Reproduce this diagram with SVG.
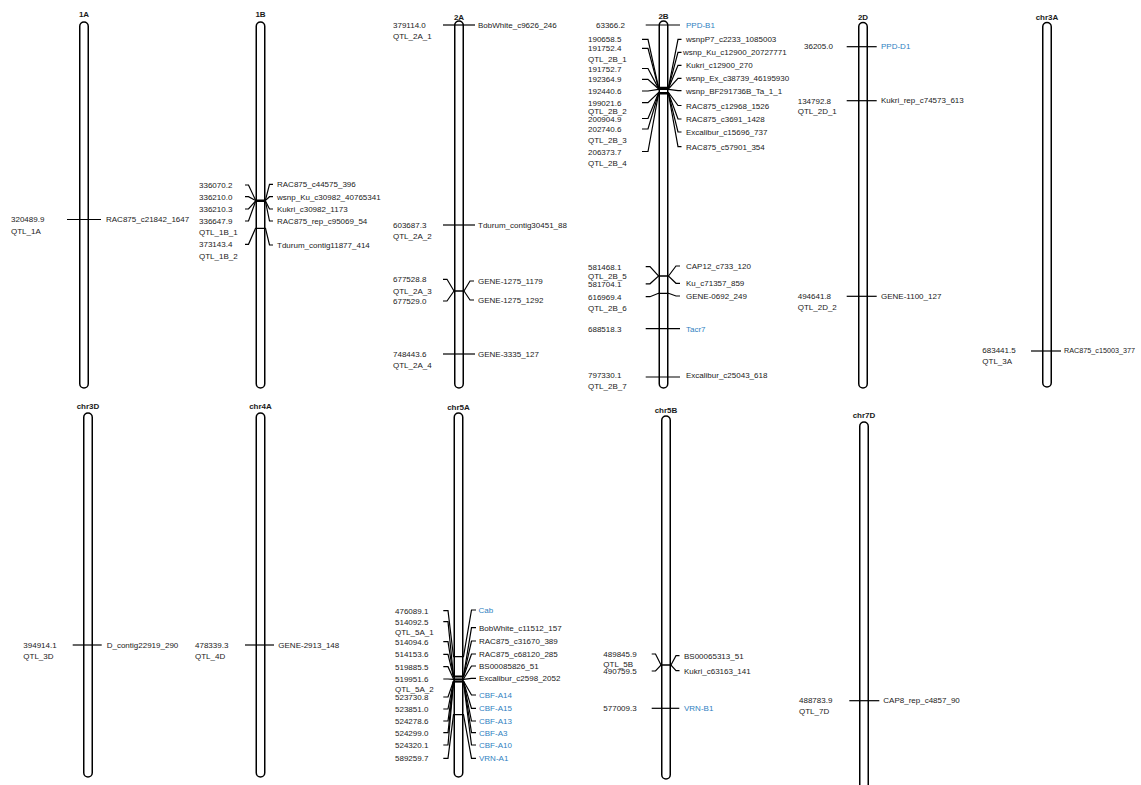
<svg xmlns="http://www.w3.org/2000/svg" width="1141" height="785" viewBox="0 0 1141 785">
<style>
text{font-family:"Liberation Sans",Arial,sans-serif;font-size:8px;fill:#1a1a1a}
.t{font-weight:bold;text-anchor:middle}
.b{fill:#2F7FC1}
.tube{fill:#fff;stroke:#000;stroke-width:1.5}
.c{fill:none;stroke:#000;stroke-width:1.2;stroke-linejoin:miter}
</style>
<rect width="1141" height="785" fill="#fff"/>
<g id="chr1A">
<text class="t" x="84" y="17">1A</text>
<rect class="tube" x="79.75" y="22" width="8.5" height="366" rx="4.25"/>
<text x="11" y="222">320489.9</text><text x="11" y="234">QTL_1A</text>
<text x="106" y="222">RAC875_c21842_1647</text>
</g>
<g id="chr1B">
<text class="t" x="260.5" y="17">1B</text>
<rect class="tube" x="256.25" y="22" width="8.5" height="366" rx="4.25"/>
<text x="199" y="188">336070.2</text><text x="199" y="199.7">336210.0</text><text x="199" y="212">336210.3</text><text x="199" y="224">336647.9</text><text x="199" y="235.3">QTL_1B_1</text><text x="199" y="247.3">373143.4</text><text x="199" y="258.7">QTL_1B_2</text>
<text x="277" y="187.3">RAC875_c44575_396</text><text x="277" y="199.7">wsnp_Ku_c30982_40765341</text><text x="277" y="212">Kukri_c30982_1173</text><text x="277" y="224">RAC875_rep_c95069_54</text><text x="277" y="248">Tdurum_contig11877_414</text>
</g>
<g id="chr2A">
<text class="t" x="459" y="20">2A</text>
<rect class="tube" x="454.75" y="21" width="8.5" height="367" rx="4.25"/>
<text x="393" y="28">379114.0</text><text x="393" y="39">QTL_2A_1</text><text x="393" y="228">603687.3</text><text x="393" y="239">QTL_2A_2</text><text x="393" y="282.3">677528.8</text><text x="393" y="294">QTL_2A_3</text><text x="393" y="304">677529.0</text><text x="393" y="357">748443.6</text><text x="393" y="368">QTL_2A_4</text>
<text x="478" y="28">BobWhite_c9626_246</text><text x="478" y="228">Tdurum_contig30451_88</text><text x="478" y="284">GENE-1275_1179</text><text x="478" y="303">GENE-1275_1292</text><text x="478" y="357">GENE-3335_127</text>
</g>
<g id="chr2B">
<text class="t" x="663.5" y="19">2B</text>
<rect class="tube" x="659.25" y="21" width="8.5" height="367" rx="4.25"/>
<text x="596" y="28">63366.2</text>
<text x="588" y="42.3">190658.5</text><text x="588" y="51.3">191752.4</text><text x="588" y="62.3">QTL_2B_1</text><text x="588" y="71.5">191752.7</text><text x="588" y="82.3">192364.9</text><text x="588" y="94">192440.6</text><text x="588" y="105.7">199021.6</text><text x="588" y="114">QTL_2B_2</text><text x="588" y="121.5">200904.9</text><text x="588" y="132">202740.6</text><text x="588" y="143">QTL_2B_3</text><text x="588" y="154.5">206373.7</text><text x="588" y="166">QTL_2B_4</text>
<text x="588" y="269.7">581468.1</text><text x="588" y="279.3">QTL_2B_5</text><text x="588" y="286.8">581704.1</text><text x="588" y="299.7">616969.4</text><text x="588" y="310.7">QTL_2B_6</text><text x="588" y="331.7">688518.3</text><text x="588" y="378">797330.1</text><text x="588" y="388.5">QTL_2B_7</text>
<text class="b" x="686" y="28">PPD-B1</text><text x="686" y="42.3">wsnpP7_c2233_1085003</text><text x="683" y="55.3">wsnp_Ku_c12900_20727771</text><text x="686" y="68.3">Kukri_c12900_270</text><text x="686" y="81.3">wsnp_Ex_c38739_46195930</text><text x="686" y="93.7">wsnp_BF291736B_Ta_1_1</text><text x="686" y="108.5">RAC875_c12968_1526</text><text x="686" y="122">RAC875_c3691_1428</text><text x="686" y="135">Excalibur_c15696_737</text><text x="686" y="149.7">RAC875_c57901_354</text>
<text x="686" y="269">CAP12_c733_120</text><text x="686" y="286.3">Ku_c71357_859</text><text x="686" y="299">GENE-0692_249</text><text class="b" x="686" y="331.7">Tacr7</text><text x="686" y="377.5">Excalibur_c25043_618</text>
</g>
<g id="chr2D">
<text class="t" x="863" y="19.7">2D</text>
<rect class="tube" x="858.75" y="22.5" width="8.5" height="365.5" rx="4.25"/>
<text x="804" y="49.3">36205.0</text><text x="797.7" y="103.7">134792.8</text><text x="797.7" y="113.7">QTL_2D_1</text><text x="797.7" y="299">494641.8</text><text x="797.7" y="310.3">QTL_2D_2</text>
<text class="b" x="881" y="49.3">PPD-D1</text><text x="881" y="103.3">Kukri_rep_c74573_613</text><text x="881" y="299">GENE-1100_127</text>
</g>
<g id="chr3A">
<text class="t" x="1047" y="19.7">chr3A</text>
<rect class="tube" x="1042.75" y="22.5" width="8.5" height="364.5" rx="4.25"/>
<text x="982.3" y="353">683441.5</text><text x="982.3" y="364">QTL_3A</text>
<text x="1064" y="353" textLength="71" lengthAdjust="spacingAndGlyphs">RAC875_c15003_377</text>
</g>
<g id="chr3D">
<text class="t" x="88" y="409">chr3D</text>
<rect class="tube" x="83.75" y="413" width="8.5" height="364" rx="4.25"/>
<text x="23.3" y="648">394914.1</text><text x="23.3" y="659">QTL_3D</text>
<text x="106.7" y="648">D_contig22919_290</text>
</g>
<g id="chr4A">
<text class="t" x="260.5" y="409">chr4A</text>
<rect class="tube" x="256.25" y="413" width="8.5" height="364" rx="4.25"/>
<text x="195" y="648">478339.3</text><text x="195" y="659">QTL_4D</text>
<text x="278.3" y="648">GENE-2913_148</text>
</g>
<g id="chr5A">
<text class="t" x="458.5" y="410">chr5A</text>
<rect class="tube" x="454.25" y="413" width="8.5" height="364" rx="4.25"/>
<text x="395" y="613.7">476089.1</text><text x="395" y="624.7">514092.5</text><text x="395" y="634.7">QTL_5A_1</text><text x="395" y="644.7">514094.6</text><text x="395" y="657.3">514153.6</text><text x="395" y="669.7">519885.5</text><text x="395" y="682">519951.6</text><text x="395" y="691.6">QTL_5A_2</text><text x="395" y="700">523730.8</text><text x="395" y="712">523851.0</text><text x="395" y="724">524278.6</text><text x="395" y="735.7">524299.0</text><text x="395" y="748">524320.1</text><text x="395" y="761.3">589259.7</text>
<text class="b" x="478.5" y="613">Cab</text><text x="479" y="630.7">BobWhite_c11512_157</text><text x="479" y="644">RAC875_c31670_389</text><text x="479" y="657">RAC875_c68120_285</text><text x="479" y="669">BS00085826_51</text><text x="479" y="681.3">Excalibur_c2598_2052</text><text class="b" x="479" y="698">CBF-A14</text><text class="b" x="479" y="711.3">CBF-A15</text><text class="b" x="479" y="724">CBF-A13</text><text class="b" x="479" y="735.7">CBF-A3</text><text class="b" x="479" y="748">CBF-A10</text><text class="b" x="479" y="761.3">VRN-A1</text>
</g>
<g id="chr5B">
<text class="t" x="666" y="413">chr5B</text>
<rect class="tube" x="661.75" y="416" width="8.5" height="363" rx="4.25"/>
<text x="603.3" y="657">489845.9</text><text x="603.3" y="667">QTL_5B</text><text x="603.3" y="674">490759.5</text><text x="603.3" y="711.3">577009.3</text>
<text x="684" y="658.7">BS00065313_51</text><text x="684" y="673.7">Kukri_c63163_141</text><text class="b" x="684" y="711.3">VRN-B1</text>
</g>
<g id="chr7D">
<text class="t" x="864" y="418">chr7D</text>
<rect class="tube" x="859.75" y="422" width="8.5" height="400" rx="4.25"/>
<text x="799" y="703">488783.9</text><text x="799" y="713.7">QTL_7D</text>
<text x="883.3" y="703">CAP8_rep_c4857_90</text>
</g>
<g id="connectors">
<path class="c" d="M67 219.5H101"/>
<path class="c" d="M245 185H248.5L255.5 200H265.5L269.5 184.3H273"/>
<path class="c" d="M245 196.7H248.5L255.5 200.5H265.5L269.5 196.7H273"/>
<path class="c" d="M245 209H248.5L255.5 201H265.5L269.5 209H273"/>
<path class="c" d="M245 221H248.5L255.5 201.5H265.5L269.5 221H273"/>
<path class="c" d="M245 244.3H248.5L255.5 228.3H265.5L269.5 245H273"/>
<path class="c" d="M443 25H475"/>
<path class="c" d="M443 225H475"/>
<path class="c" d="M443 279.3H447L454 291H464L470 281H474"/>
<path class="c" d="M443 301H447L454 291H464L470 300H474"/>
<path class="c" d="M443 354H475"/>
<path class="c" d="M645.7 25H680"/>
<path class="c" d="M642 39.3H648L658.5 87.3H668.5L678 39.3H681.5"/>
<path class="c" d="M642 48.3H648L658.5 87.8H668.5L678 52.3H681.5"/>
<path class="c" d="M642 68.5H648L658.5 88.3H668.5L678 65.3H681.5"/>
<path class="c" d="M642 79.3H648L658.5 88.8H668.5L678 78.3H681.5"/>
<path class="c" d="M642 91H648L658.5 89.3H668.5L678 90.7H681.5"/>
<path class="c" d="M642 102.7H648L658.5 92.5H668.5L678 105.5H681.5"/>
<path class="c" d="M642 118.5H648L658.5 93H668.5L678 119H681.5"/>
<path class="c" d="M642 129H648L658.5 93.5H668.5L678 132H681.5"/>
<path class="c" d="M642 151.5H648L658.5 94H668.5L678 146.7H681.5"/>
<path class="c" d="M645.7 266.7H650L658.5 276H668.5L676 266H680"/>
<path class="c" d="M645.7 283.8H650L658.5 276H668.5L676 283.3H680"/>
<path class="c" d="M645.7 296.7H650L658.5 293.3H668.5L676 296H680"/>
<path class="c" d="M645.7 328.7H680"/>
<path class="c" d="M645.7 377H680"/>
<path class="c" d="M846.7 46.7H876.7"/>
<path class="c" d="M846.7 100.7H876.7"/>
<path class="c" d="M846.7 296.3H876.7"/>
<path class="c" d="M1031 351H1061"/>
<path class="c" d="M72.7 645H101.7"/>
<path class="c" d="M245 645H274"/>
<path class="c" d="M443.3 610.7H448L453.5 656.7H463.5L471.5 610H476"/>
<path class="c" d="M443.3 621.7H448L453.5 676.2H463.5L471.5 627.7H476"/>
<path class="c" d="M443.3 641.7H448L453.5 676.5H463.5L471.5 641H476"/>
<path class="c" d="M443.3 654.3H448L453.5 676.8H463.5L471.5 654H476"/>
<path class="c" d="M443.3 666.7H448L453.5 679H463.5L471.5 666H476"/>
<path class="c" d="M443.3 679H448L453.5 679.3H463.5L471.5 678.3H476"/>
<path class="c" d="M443.3 697H448L453.5 681H463.5L471.5 695H476"/>
<path class="c" d="M443.3 709H448L453.5 681.3H463.5L471.5 708.3H476"/>
<path class="c" d="M443.3 721H448L453.5 681.5H463.5L471.5 721H476"/>
<path class="c" d="M443.3 732.7H448L453.5 681.7H463.5L471.5 732.7H476"/>
<path class="c" d="M443.3 745H448L453.5 682H463.5L471.5 745H476"/>
<path class="c" d="M443.3 758.3H448L453.5 714.7H463.5L471.5 758.3H476"/>
<path class="c" d="M651.7 654H655.5L661 665H671L676 655.7H679.5"/>
<path class="c" d="M651.7 671H655.5L661 665H671L676 670.7H679.5"/>
<path class="c" d="M651.7 708.3H679.3"/>
<path class="c" d="M849.3 700.7H879.3"/>
</g>
</svg>
